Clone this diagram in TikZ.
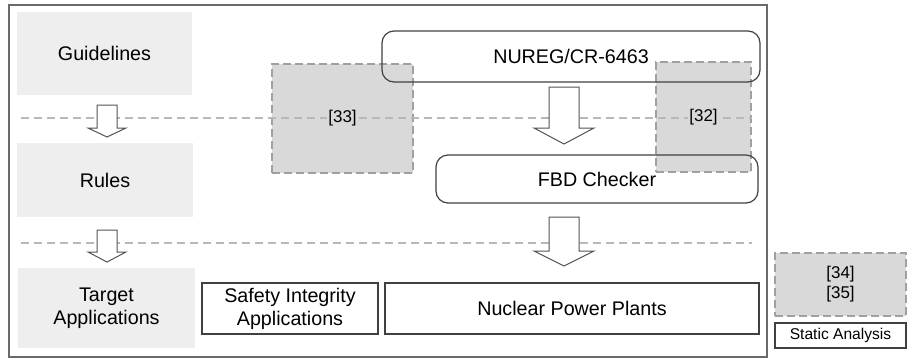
\documentclass[tikz,border=0pt]{standalone}
\usepackage{fontspec}
\setmainfont{Liberation Sans}
\definecolor{lightfill}{HTML}{EEEEEE}
\definecolor{refill}{HTML}{D9D9D9}
\definecolor{refedge}{HTML}{A0A0A0}
\definecolor{sepline}{HTML}{B8B8B8}
\definecolor{edge}{HTML}{404040}
\definecolor{framecol}{HTML}{6A6A6A}
\tikzset{
  bigtext/.style={font=\fontsize{19.7bp}{23bp}\selectfont, align=center},
  lightbox/.style={bigtext, fill=lightfill, inner sep=0pt, outer sep=0pt},
  refbox/.style={fill=refill, draw=refedge, line width=1.1bp, dash pattern=on 8bp off 4bp,
    inner sep=0pt, outer sep=0pt, align=center, font=\fontsize{17bp}{20bp}\selectfont},
  reflabel/.style={fill=refill, inner sep=1bp, align=center, font=\fontsize{17bp}{20bp}\selectfont},
  roundbox/.style={bigtext, draw=edge, line width=1.2bp, rounded corners=12bp, inner sep=0pt, outer sep=0pt},
  plainbox/.style={bigtext, draw=edge, line width=1.2bp, inner sep=0pt, outer sep=0pt},
  sep/.style={draw=sepline, line width=1.2bp, dash pattern=on 8bp off 5bp},
  hollow/.style={draw=edge!90, fill=white, line width=1bp, line join=miter},
}
\begin{document}
\begin{tikzpicture}[x=1bp, y=-1bp]
\useasboundingbox (0,0) rectangle (907,359);

% outer frame
\node[draw=framecol, line width=1.4bp, minimum width=758bp, minimum height=352bp,
  inner sep=0pt, outer sep=0pt] (frame) at (388,181) {};

% reference boxes (behind the other shapes)
\node[refbox, minimum width=141bp, minimum height=109bp] (r33) at (342.5,118.5) {};
\node[refbox, minimum width=95bp, minimum height=110bp] (r32) at (703.5,117) {};

% separating dashed lines
\coordinate (s1a) at (21,118); \coordinate (s1b) at (752,118);
\coordinate (s2a) at (21,243); \coordinate (s2b) at (752,243);
\draw[sep] (s1a) -- (s1b);
\draw[sep] (s2a) -- (s2b);

% reference labels above the dashed lines
\node[reflabel] (l33) at (r33) {[33]};
\node[reflabel] (l32) at (r32) {[32]};

% left column
\node[lightbox, minimum width=175bp, minimum height=83bp] (guide) at (104.5,53.5) {Guidelines};
\node[lightbox, minimum width=176bp, minimum height=74bp] (rules) at (105,180) {Rules};
\node[lightbox, minimum width=177bp, minimum height=80bp] (target) at (106.5,308) {Target\\Applications};

% rounded boxes
\node[roundbox, minimum width=378bp, minimum height=51bp] (nureg) at (571,56.5) {NUREG/CR-6463};
\node[roundbox, minimum width=322bp, minimum height=48bp] (fbd) at (597,179) {FBD Checker};

% application boxes
\node[plainbox, minimum width=176bp, minimum height=51bp] (safety) at (290,308.5) {Safety Integrity\\Applications};
\node[plainbox, minimum width=374bp, minimum height=51bp] (npp) at (572,308.5) {Nuclear Power Plants};

% side legend
\node[refbox, minimum width=131bp, minimum height=63bp] (r3435) at (840.5,284.5) {[34]\\{}[35]};
\node[plainbox, line width=1.1bp, minimum width=131bp, minimum height=25bp,
  font=\fontsize{15.6bp}{18bp}\selectfont] (static) at (840.5,335.5) {Static Analysis};

% hollow block arrows
\draw[hollow] (97,105) -- (117,105) -- (117,128) -- (126,128) -- (107,137)
  -- (88,128) -- (97,128) -- cycle;
\draw[hollow] (97,230) -- (117,230) -- (117,252) -- (126,252) -- (107,262)
  -- (88,252) -- (97,252) -- cycle;
\draw[hollow] (549,87) -- (579,87) -- (579,128) -- (594,128) -- (564,144)
  -- (534,128) -- (549,128) -- cycle;
\draw[hollow] (549,217) -- (579,217) -- (579,251) -- (594,251) -- (564,266)
  -- (534,251) -- (549,251) -- cycle;
\end{tikzpicture}
\end{document}
